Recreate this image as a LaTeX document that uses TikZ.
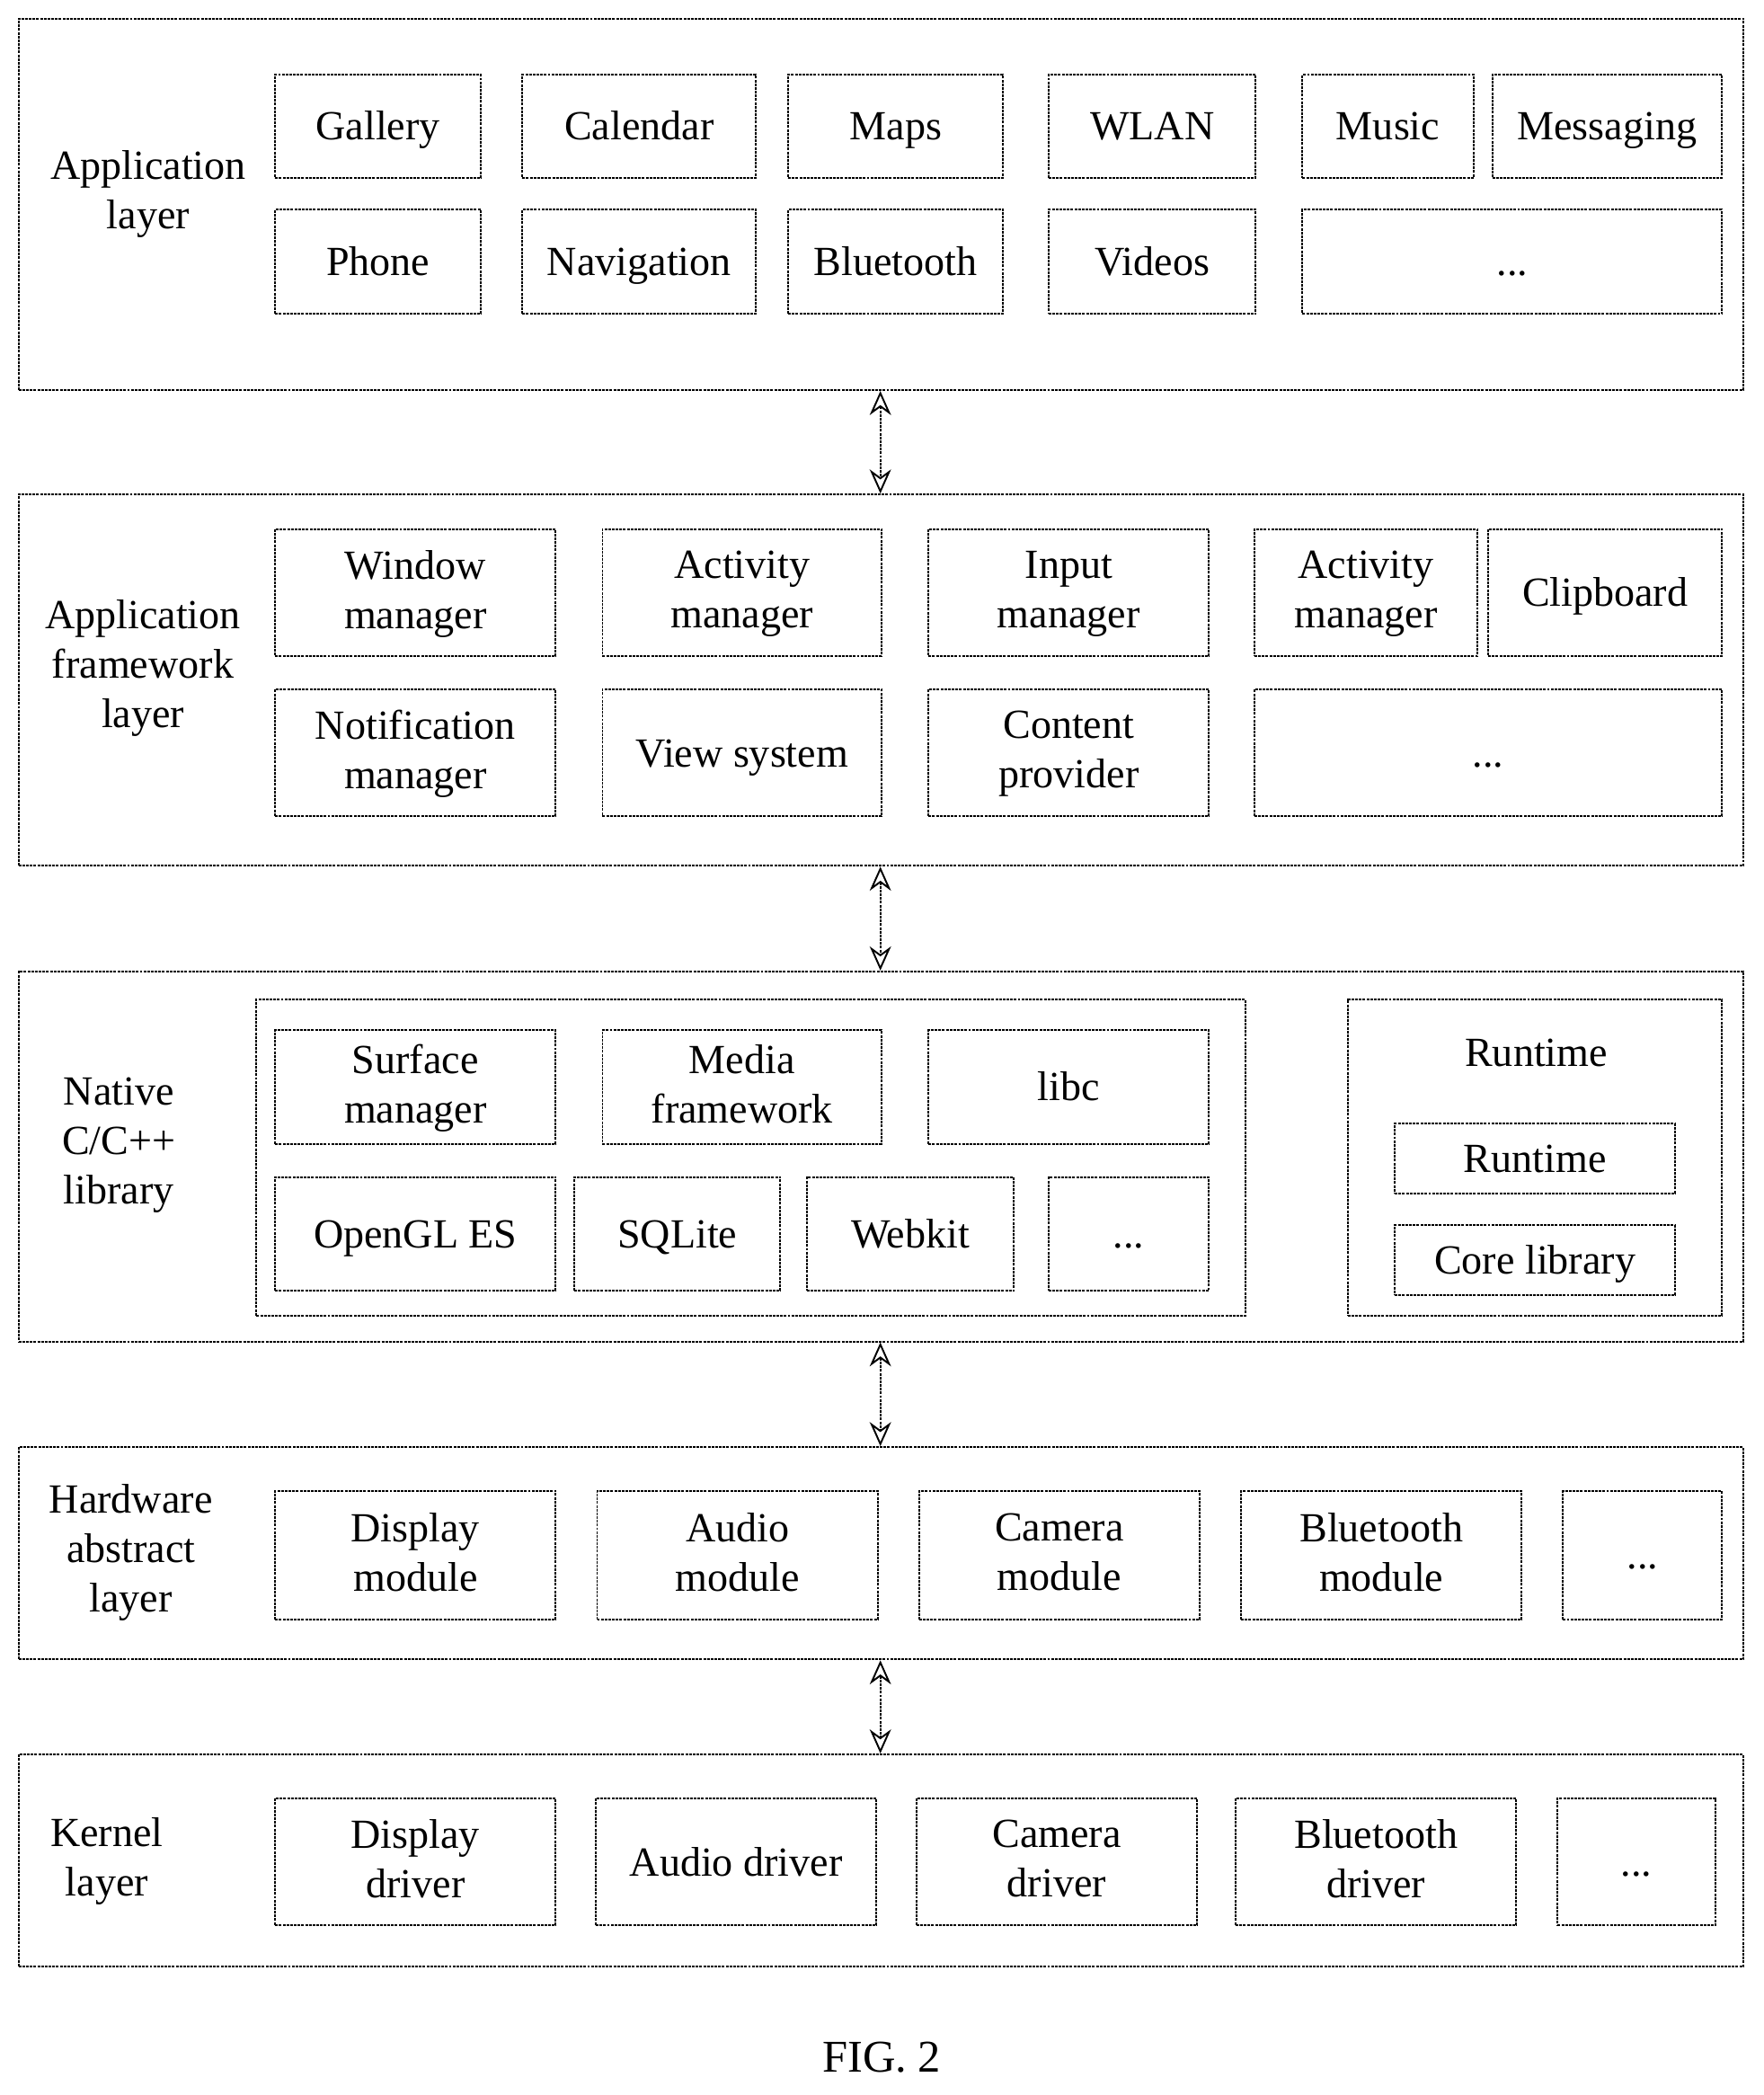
\documentclass[tikz,border=0pt]{standalone}
\usepackage{fontspec}
\setmainfont{Liberation Serif}
\usetikzlibrary{fit,arrows.meta}
\newcommand{\B}[6]{\node[bx,fit={(#2,-#3)(#4,-#5)},label={[lbl]center:#6}] (#1) {};}
\begin{document}
\begin{tikzpicture}[x=1pt,y=1pt,
  bx/.style={draw,line width=1.3pt,dash pattern=on 2pt off 0.8pt,inner sep=0pt},
  lbl/.style={align=center,font=\fontsize{31}{37}\selectfont,execute at begin node=\strut,execute at end node=\strut,yshift=-3pt},
  txt/.style={align=center,font=\fontsize{31}{37}\selectfont},
  arr/.style={line width=1.3pt,dash pattern=on 2pt off 0.8pt,{Stealth[open,length=18pt,width=16pt]}-{Stealth[open,length=18pt,width=16pt]}}]
\useasboundingbox (0,0) rectangle (1320,-1568);
% Layer 1
\B{L1}{14}{14}{1305}{292}{}
\node[txt] (t1) at (111,-145) {Application\\layer};
\B{a1}{206}{56}{360}{133}{Gallery}
\B{a2}{391}{56}{566}{133}{Calendar}
\B{a3}{590}{56}{751}{133}{Maps}
\B{a4}{785}{56}{940}{133}{WLAN}
\B{a5}{975}{56}{1103}{133}{Music}
\B{a6}{1117}{56}{1289}{133}{Messaging}
\B{a7}{206}{157}{360}{235}{Phone}
\B{a8}{391}{157}{566}{235}{Navigation}
\B{a9}{590}{157}{751}{235}{Bluetooth}
\B{a10}{785}{157}{940}{235}{Videos}
\B{a11}{975}{157}{1289}{235}{...}
% Layer 2
\B{L2}{14}{370}{1305}{648}{}
\node[txt] (t2) at (107,-500) {Application\\framework\\layer};
\B{f1}{206}{396}{416}{491}{Window\\manager}
\B{f2}{451}{396}{660}{491}{Activity\\manager}
\B{f3}{695}{396}{905}{491}{Input\\manager}
\B{f4}{939}{396}{1106}{491}{Activity\\manager}
\B{f5}{1114}{396}{1289}{491}{Clipboard}
\B{f6}{206}{516}{416}{611}{Notification\\manager}
\B{f7}{451}{516}{660}{611}{View system}
\B{f8}{695}{516}{905}{611}{Content\\provider}
\B{f9}{939}{516}{1289}{611}{...}
% Layer 3
\B{L3}{14}{727}{1305}{1004}{}
\node[txt] (t3) at (89,-857) {Native\\C/C++\\library};
\B{nb}{192}{748}{932}{985}{}
\B{n1}{206}{771}{416}{856}{Surface\\manager}
\B{n2}{451}{771}{660}{856}{Media\\framework}
\B{n3}{695}{771}{905}{856}{libc}
\B{n4}{206}{881}{416}{966}{OpenGL ES}
\B{n5}{430}{881}{584}{966}{SQLite}
\B{n6}{604}{881}{759}{966}{Webkit}
\B{n7}{785}{881}{905}{966}{...}
\B{rb}{1009}{748}{1289}{985}{}
\node[txt] (rt) at (1150,-788) {Runtime};
\B{r1}{1044}{841}{1254}{893}{Runtime}
\B{r2}{1044}{917}{1254}{969}{Core library}
% Layer 4
\B{L4}{14}{1083}{1305}{1242}{}
\node[txt] (t4) at (98,-1162) {Hardware\\abstract\\layer};
\B{h1}{206}{1116}{416}{1212}{Display\\module}
\B{h2}{447}{1116}{657}{1212}{Audio\\module}
\B{h3}{688}{1116}{898}{1212}{Camera\\module}
\B{h4}{929}{1116}{1139}{1212}{Bluetooth\\module}
\B{h5}{1170}{1116}{1289}{1212}{...}
% Layer 5
\B{L5}{14}{1313}{1305}{1472}{}
\node[txt] (t5) at (80,-1393) {Kernel\\layer};
\B{k1}{206}{1346}{416}{1441}{Display\\driver}
\B{k2}{446}{1346}{656}{1441}{Audio driver}
\B{k3}{686}{1346}{896}{1441}{Camera\\driver}
\B{k4}{925}{1346}{1135}{1441}{Bluetooth\\driver}
\B{k5}{1166}{1346}{1284}{1441}{...}
% arrows
\draw[arr] (L1.south -| 659,0) -- (L2.north -| 659,0);
\draw[arr] (L2.south -| 659,0) -- (L3.north -| 659,0);
\draw[arr] (L3.south -| 659,0) -- (L4.north -| 659,0);
\draw[arr] (L4.south -| 659,0) -- (L5.north -| 659,0);
\node[txt,font=\fontsize{34}{40}\selectfont] (fig) at (660,-1540) {FIG. 2};
\end{tikzpicture}
\end{document}
